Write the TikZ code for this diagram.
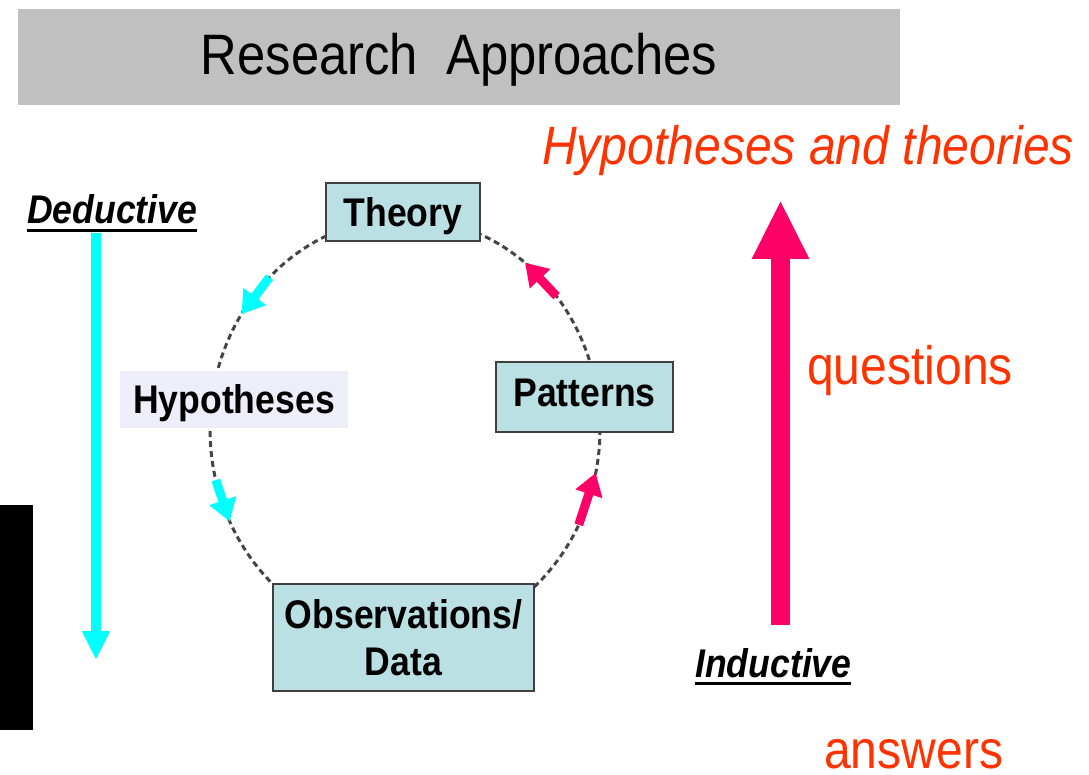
\documentclass[tikz,border=0pt]{standalone}
\usepackage{fontspec}
\setmainfont{Liberation Sans}[FakeStretch=0.89]
\usetikzlibrary{arrows.meta,calc}

\definecolor{titlegray}{HTML}{C0C0C0}
\definecolor{boxfill}{HTML}{BBE0E3}
\definecolor{hypfill}{HTML}{EEEEFA}
\definecolor{boxline}{HTML}{404040}
\definecolor{dashgray}{HTML}{454545}
\definecolor{deepcyan}{HTML}{00FFFF}
\definecolor{hotpink}{HTML}{FF0066}
\definecolor{redorange}{HTML}{FF3300}

% thick underline drawn under a word
\newcommand{\thickul}[1]{\setbox0\hbox{#1}\rlap{\vrule width\wd0 height -5pt depth 8pt}\box0}

\tikzset{
  cyclebox/.style={draw=boxline, line width=1.6pt, fill=boxfill, inner sep=0pt,
    font=\bfseries\fontsize{40}{47}\selectfont, align=center},
  freetext/.style={inner sep=0pt, anchor=base west},
  cycleline/.style={draw=dashgray, line width=3pt, dash pattern=on 6pt off 4pt},
  smallcyan/.style={draw=deepcyan, line width=9pt, -{Triangle[width=27pt,length=22pt]}},
  smallpink/.style={draw=hotpink, line width=9pt, -{Triangle[width=27pt,length=22pt]}},
}

\begin{document}
\begin{tikzpicture}[x=1pt, y=-1pt]
\useasboundingbox (0,0) rectangle (1089,775);

% title bar
\node[fill=titlegray, inner sep=0pt, minimum width=882, minimum height=96,
      text height=40, text depth=4, font=\fontsize{57}{60}\selectfont]
  (title) at (459,57) {Research\ \ Approaches};

% black bar at the left margin
\fill[black] (0,505) rectangle (33,730);

% research cycle
\coordinate (cyc) at (405,429);
\draw[cycleline] (cyc) ellipse [x radius=195, y radius=211];

\draw[smallcyan] ($(cyc)+(134:195 and -211)$) -- ($(cyc)+(147:195 and -211)$);
\draw[smallcyan] ($(cyc)+(194:195 and -211)$) -- ($(cyc)+(206:195 and -211)$);
\draw[smallpink] ($(cyc)+(-27:195 and -211)$) -- ($(cyc)+(-12:195 and -211)$);
\draw[smallpink] ($(cyc)+(39:195 and -211)$) -- ($(cyc)+(52:195 and -211)$);

\node[cyclebox, minimum width=154, minimum height=58, text height=38, text depth=8]
  (theory) at (403,212) {Theory};
\node[cyclebox, draw=none, fill=hypfill, minimum width=228, minimum height=57,
      text height=35, text depth=8]
  (hyp) at (234,399.5) {Hypotheses};
\node[cyclebox, minimum width=177, minimum height=70, text height=26, text depth=8]
  (patterns) at (584.5,397) {Patterns};
\node[cyclebox, minimum width=261, minimum height=107]
  (obs) at (403.5,637.5) {Observations/\\Data};

% deductive direction
\node[freetext, font=\bfseries\itshape\fontsize{40}{44}\selectfont]
  (deductive) at (27,224) {\thickul{Deductive}};
\coordinate (dedtop) at (96,233);
\coordinate (dedend) at (96,660);
\draw[deepcyan, line width=10pt, -{Triangle[width=26pt,length=29pt]}] (dedtop) -- (dedend);

% inductive direction
\node[freetext, font=\bfseries\itshape\fontsize{40}{44}\selectfont]
  (inductive) at (695,677) {\thickul{Inductive}};
\coordinate (indbottom) at (780.5,625);
\coordinate (indtop) at (780.5,200);
\draw[hotpink, line width=19pt, -{Triangle[width=53pt,length=59pt]}] (indbottom) -- (indtop);

% red labels
\node[freetext, text=redorange, font=\itshape\fontsize{54}{58}\selectfont]
  (theories) at (542,165) {Hypotheses and theories};
\node[freetext, text=redorange, font=\fontsize{54}{58}\selectfont]
  (questions) at (807,384) {questions};
\node[freetext, text=redorange, text depth=0pt, font=\fontsize{54}{58}\selectfont]
  (answers) at (824,768) {answers};
\end{tikzpicture}
\end{document}
